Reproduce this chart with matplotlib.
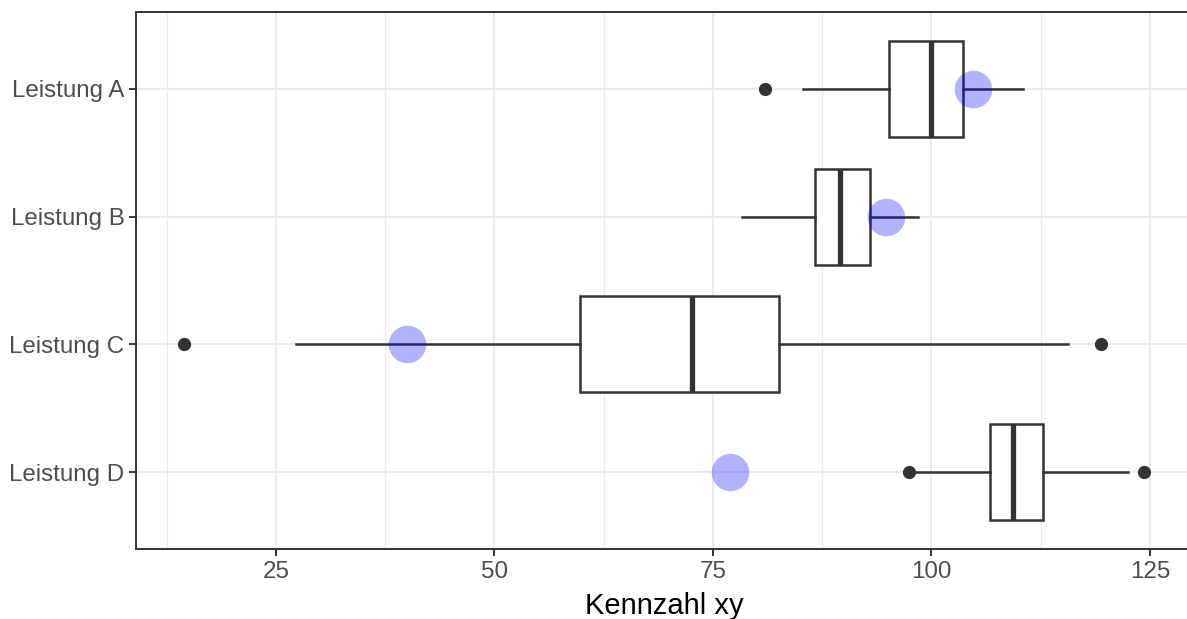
import matplotlib
matplotlib.use('Agg')
import matplotlib.pyplot as plt
from matplotlib.ticker import MultipleLocator

# values
categories = ['Leistung A', 'Leistung B', 'Leistung C', 'Leistung D']
whis_lo = [85.3, 78.3, 27.3, 98.2]
q1 = [95.1, 86.7, 59.8, 106.7]
median = [99.9, 89.5, 72.6, 109.3]
q3 = [103.6, 93.0, 82.5, 112.7]
whis_hi = [110.5, 98.4, 115.6, 122.5]
outliers = [[80.9], [], [14.5, 119.4], [97.4, 124.3]]
highlight = [104.8, 94.8, 40.0, 77.0]

dark = '#333333'
grey_text = '#4D4D4D'
grid_col = '#EBEBEB'

plt.rcParams['font.family'] = ['Liberation Sans', 'DejaVu Sans']

fig = plt.figure(figsize=(11.87, 6.19), dpi=100)
ax = fig.add_axes([136 / 1187, 1 - 549 / 619, (1192 - 136) / 1187, (549 - 12) / 619])

stats = []
for i, name in enumerate(categories):
    stats.append(dict(label=name, med=median[i], q1=q1[i], q3=q3[i],
                      whislo=whis_lo[i], whishi=whis_hi[i], fliers=outliers[i]))

pos = list(range(1, len(categories) + 1))
ax.bxp(stats, positions=pos, vert=False, widths=0.75, patch_artist=True,
       showcaps=False,
       boxprops=dict(facecolor='white', edgecolor=dark, linewidth=1.8),
       whiskerprops=dict(color=dark, linewidth=1.8),
       medianprops=dict(color=dark, linewidth=3.8, solid_capstyle='butt'),
       flierprops=dict(marker='o', markerfacecolor=dark, markeredgecolor=dark,
                       markersize=8.5),
       zorder=3)

ax.plot(highlight, pos, 'o', color='blue', alpha=0.3, markersize=27,
        markeredgewidth=0, zorder=4)

ax.set_xlim(9.0, 129.8)
ax.set_ylim(4.6, 0.4)
ax.set_yticks(pos)
ax.set_yticklabels(categories)
ax.xaxis.set_major_locator(MultipleLocator(25))
ax.xaxis.set_minor_locator(MultipleLocator(12.5))
ax.grid(which='major', color=grid_col, linewidth=1.5, zorder=0)
ax.grid(which='minor', axis='x', color=grid_col, linewidth=0.8, zorder=0)
ax.set_axisbelow(True)

ax.tick_params(axis='both', which='major', length=5.3, width=1.4, color=dark,
               labelsize=17.4, labelcolor=grey_text, pad=3)
ax.tick_params(axis='x', which='minor', length=0)
ax.set_xlabel('Kennzahl xy', fontsize=21, color='black', labelpad=7)
for s in ax.spines.values():
    s.set_color(dark)
    s.set_linewidth(1.4)

fig.savefig('out.png', dpi=100)
